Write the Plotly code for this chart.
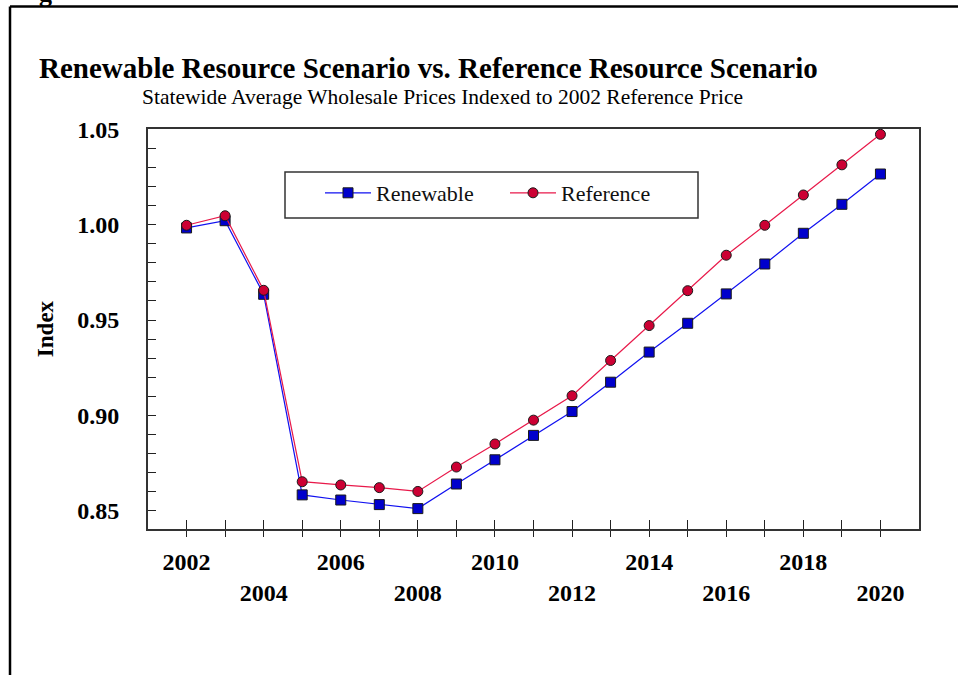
import plotly.graph_objects as go

years = list(range(2002, 2021))
renewable = [0.9983, 1.0021, 0.9635, 0.8583, 0.8556, 0.8532, 0.8511, 0.8640, 0.8767,
             0.8895, 0.9020, 0.9174, 0.9332, 0.9483, 0.9637, 0.9794, 0.9955, 1.0107, 1.0266]
reference = [0.9997, 1.0047, 0.9656, 0.8652, 0.8635, 0.8621, 0.8601, 0.8729, 0.8850,
             0.8975, 0.9103, 0.9288, 0.9471, 0.9654, 0.9840, 0.9997, 1.0156, 1.0314, 1.0474]
upper_labels = [2002, 2006, 2010, 2014, 2018]
lower_labels = [2004, 2008, 2012, 2016, 2020]
y_ticks = [0.85, 0.90, 0.95, 1.00, 1.05]

title_text = "Renewable Resource Scenario vs. Reference Resource Scenario"
subtitle_text = "Statewide Average Wholesale Prices Indexed to 2002 Reference Price"

FONT = "Liberation Serif"

tick_text = []
for yr in years:
    if yr in upper_labels:
        tick_text.append(str(yr))
    elif yr in lower_labels:
        tick_text.append("<br>" + str(yr))
    else:
        tick_text.append("")

fig = go.Figure()
fig.add_trace(go.Scatter(
    x=years, y=renewable, name="Renewable", mode="lines+markers",
    line=dict(color="#1010F0", width=1.2),
    marker=dict(symbol="square", size=10, color="#0000CC", line=dict(color="#1a1a1a", width=1)),
))
fig.add_trace(go.Scatter(
    x=years, y=reference, name="Reference", mode="lines+markers",
    line=dict(color="#E8194A", width=1.2),
    marker=dict(symbol="circle", size=10, color="#CC0033", line=dict(color="#1a1a1a", width=1)),
))
# overlay axis for the inward part of the crossing x ticks
fig.add_trace(go.Scatter(x=[years[0]], y=[renewable[0]], xaxis="x2", yaxis="y",
                         mode="markers", marker=dict(opacity=0), showlegend=False, hoverinfo="skip"))

fig.update_layout(
    width=958, height=675,
    margin=dict(l=148, r=39, t=129, b=146),
    paper_bgcolor="white", plot_bgcolor="white",
    font=dict(family=FONT, color="black"),
    showlegend=True,
    legend=dict(
        orientation="h", x=(320 - 148) / 771, y=(529 - 193) / 400, xanchor="left", yanchor="middle",
        font=dict(family=FONT, size=22, color="#111"),
        bgcolor="rgba(0,0,0,0)", borderwidth=0, itemwidth=46,
        entrywidth=124,
    ),
    xaxis=dict(
        range=[2001, 2021], tickmode="array", tickvals=years, ticktext=tick_text,
        ticks="outside", ticklen=6, tickwidth=1.3, tickcolor="#222",
        showline=True, linecolor="#333", linewidth=2, mirror=True,
        showgrid=False, zeroline=False,
        tickfont=dict(family=FONT, size=24, color="black", weight="bold"),
        ticklabelstandoff=4,
    ),
    xaxis2=dict(
        range=[2001, 2021], overlaying="x", anchor="y", side="bottom",
        tickmode="array", tickvals=years, ticks="inside", ticklen=9, tickwidth=1.3, tickcolor="#222",
        showticklabels=False, showgrid=False, zeroline=False, showline=False,
    ),
    yaxis=dict(
        range=[0.8404, 1.0502], tickmode="array", tickvals=y_ticks,
        ticktext=[f"{v:.2f}" for v in y_ticks],
        ticks="inside", ticklen=8, tickwidth=1.3, tickcolor="#222",
        minor=dict(dtick=0.01, tick0=0.85, ticks="inside", ticklen=8, tickwidth=1.3, tickcolor="#222"),
        showline=True, linecolor="#333", linewidth=2, mirror=True,
        showgrid=False, zeroline=False,
        tickfont=dict(family=FONT, size=24, color="black", weight="bold"),
        ticklabelstandoff=22,
        title=dict(text="Index", font=dict(family=FONT, size=23, color="black", weight="bold"), standoff=17),
    ),
    annotations=[
        dict(text="<b>" + title_text + "</b>", xref="paper", yref="paper",
             x=(37 - 148) / 771, y=(529 - 68) / 400, xanchor="left", yanchor="middle",
             showarrow=False, font=dict(family=FONT, size=29, color="black")),
        dict(text=subtitle_text, xref="paper", yref="paper",
             x=(140 - 148) / 771, y=(529 - 97) / 400, xanchor="left", yanchor="middle",
             showarrow=False, font=dict(family=FONT, size=21.5, color="black")),
        dict(text="<b>g</b>", xref="paper", yref="paper",
             x=(45 - 148) / 771, y=(529 - 10) / 400, xanchor="center", yanchor="bottom",
             showarrow=False, font=dict(family=FONT, size=26, color="black")),
    ],
    shapes=[
        dict(type="line", xref="paper", yref="paper", x0=(10 - 148) / 771, x1=1.1,
             y0=(529 - 6.5) / 400, y1=(529 - 6.5) / 400, line=dict(color="black", width=2.5)),
        dict(type="line", xref="paper", yref="paper", x0=(10 - 148) / 771, x1=(10 - 148) / 771,
             y0=(529 - 6.5) / 400, y1=-0.5, line=dict(color="black", width=2.5)),
        dict(type="rect", xref="paper", yref="paper", x0=(285 - 148) / 771, x1=(698 - 148) / 771,
             y0=(529 - 172) / 400, y1=(529 - 218) / 400, line=dict(color="#333", width=1.5)),
    ],
)
fig.write_html("out.html", config={"displayModeBar": False},
               post_script="document.body.style.margin='0';")
